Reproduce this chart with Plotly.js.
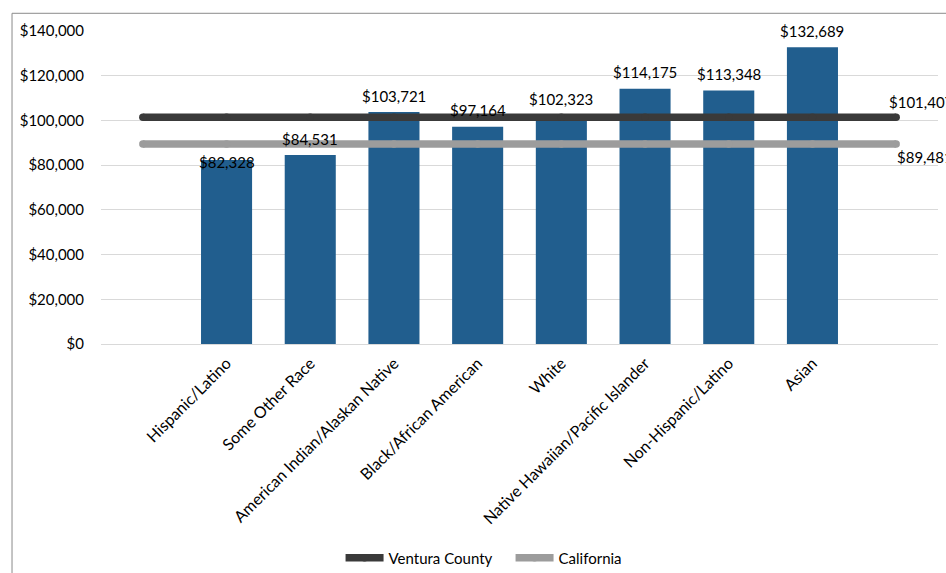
<!DOCTYPE html>
<html>
<head>
<meta charset="utf-8">
<script src="https://cdn.plot.ly/plotly-3.0.1.min.js"></script>
<style>html,body{margin:0;padding:0;background:#fff;}#chart{width:946px;height:573px;}</style>
</head>
<body>
<div id="chart"></div>
<script>
var categories = ["Hispanic/Latino", "Some Other Race", "American Indian/Alaskan Native", "Black/African American", "White", "Native Hawaiian/Pacific Islander", "Non-Hispanic/Latino", "Asian"];
var incomes = [82328, 84531, 103721, 97164, 102323, 114175, 113348, 132689];
var venturaCounty = 101407;
var california = 89481;
var yTickValues = [0, 20000, 40000, 60000, 80000, 100000, 120000, 140000];

function money(v) { return '$' + v.toLocaleString('en-US'); }

var barX = categories.map(function (_, i) { return i + 1; });
var lineX = [];
for (var i = 0; i <= categories.length + 1; i++) lineX.push(i);
var lastX = lineX[lineX.length - 1];

var font = "Lato, 'Open Sans', 'Liberation Sans', sans-serif";

var traces = [
  {
    type: 'bar', x: barX, y: incomes, width: 0.61,
    marker: {color: '#215e8e'}, showlegend: false, hoverinfo: 'skip'
  },
  {
    type: 'scatter', mode: 'lines+markers', name: 'Ventura County',
    x: lineX, y: lineX.map(function () { return venturaCounty; }),
    line: {color: '#3a3a3a', width: 7.5}, marker: {color: '#3a3a3a', size: 7.5},
    hoverinfo: 'skip'
  },
  {
    type: 'scatter', mode: 'lines+markers', name: 'California',
    x: lineX, y: lineX.map(function () { return california; }),
    line: {color: '#9c9c9c', width: 7.5}, marker: {color: '#9c9c9c', size: 7.5},
    hoverinfo: 'skip'
  }
];

// label vertical offsets (px) – Hispanic/Latino label was nudged down in the original
var labelShift = incomes.map(function (_, i) { return i === 0 ? -2 : 16.5; });

var annotations = incomes.map(function (v, i) {
  return {
    x: barX[i], y: v, xref: 'x', yref: 'y', text: money(v), showarrow: false,
    yanchor: 'middle', xanchor: 'center', yshift: labelShift[i],
    font: {family: font, size: 15, color: '#000'}
  };
});
annotations.push({
  x: lastX, y: venturaCounty, xref: 'x', yref: 'y', text: money(venturaCounty), showarrow: false,
  xanchor: 'left', yanchor: 'middle', xshift: -9, yshift: 15.5,
  font: {family: font, size: 15, color: '#000'}
});
annotations.push({
  x: lastX, y: california, xref: 'x', yref: 'y', text: money(california), showarrow: false,
  xanchor: 'left', yanchor: 'middle', xshift: -1, yshift: -13,
  font: {family: font, size: 15, color: '#000'}
});

var layout = {
  width: 946, height: 573,
  margin: {l: 101, r: 8, t: 31, b: 229, autoexpand: false},
  paper_bgcolor: '#fff', plot_bgcolor: '#fff',
  font: {family: font, size: 15, color: '#000'},
  xaxis: {
    range: [-0.5, lastX + 0.5], tickmode: 'array', tickvals: barX, ticktext: categories,
    tickangle: -45, showgrid: false, zeroline: false, showline: false, ticks: '',
    ticklabelstandoff: 6, automargin: false,
    tickfont: {family: font, size: 16, color: '#000'}
  },
  yaxis: {
    range: [0, 140000], tickmode: 'array', tickvals: yTickValues, tickformat: '$,.0f',
    showgrid: true, gridcolor: '#d9d9d9', gridwidth: 1, zeroline: true, zerolinecolor: '#d9d9d9',
    zerolinewidth: 1, showline: false, ticks: '', ticklabelstandoff: 16, automargin: false,
    tickfont: {family: font, size: 15, color: '#000'}
  },
  legend: {
    orientation: 'h', xref: 'container', yref: 'container',
    x: 0.36, xanchor: 'left', y: 0.026, yanchor: 'middle',
    font: {family: font, size: 15, color: '#000'}, itemwidth: 38,
    entrywidth: 117, entrywidthmode: 'pixels', bgcolor: 'rgba(0,0,0,0)'
  },
  annotations: annotations,
  shapes: [
    {type: 'line', xref: 'paper', yref: 'paper', x0: -0.1063, x1: -0.1063, y0: -0.75, y1: 1.0566,
      line: {color: '#8a8a8a', width: 1}},
    {type: 'line', xref: 'paper', yref: 'paper', x0: -0.1063, x1: 1.02, y0: 1.0566, y1: 1.0566,
      line: {color: '#8a8a8a', width: 1}}
  ],
  bargap: 0.39
};

Plotly.newPlot('chart', traces, layout, {displayModeBar: false, staticPlot: true});
</script>
</body>
</html>
